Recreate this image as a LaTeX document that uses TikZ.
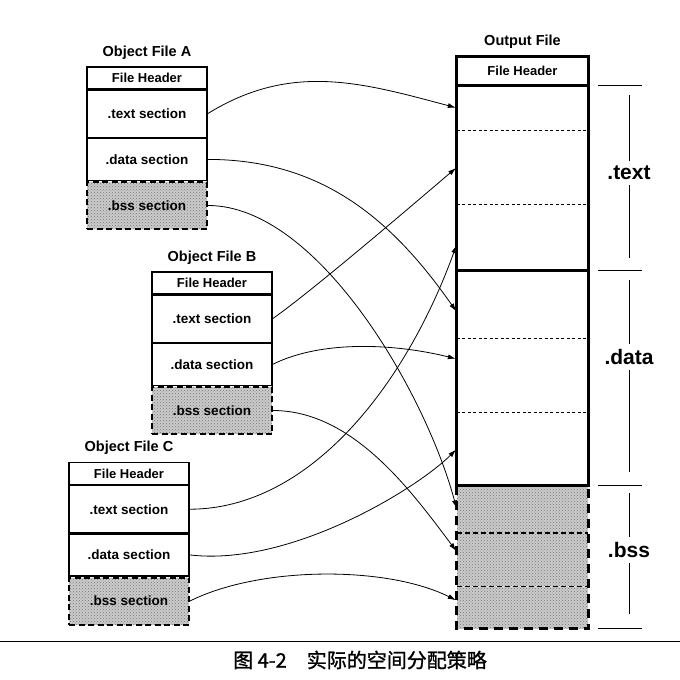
\documentclass[tikz,border=0pt]{standalone}
\usepackage{fontspec}
\setmainfont{Liberation Sans}
\newfontfamily\cjkfont[FakeBold=1.2]{Noto Sans CJK SC}
\usetikzlibrary{arrows.meta,positioning,patterns}

\begin{document}
\begin{tikzpicture}[
  x=1pt, y=-1pt,
  node distance=0pt,
  grain/.style={pattern=crosshatch dots, pattern color=black!55,
                preaction={fill=black!20}},
  sect/.style={draw, line width=1.2pt, minimum width=120pt, inner sep=0pt,
               font=\bfseries\fontsize{13.5}{15}\selectfont},
  hdr/.style={sect, minimum height=22pt, font=\bfseries\fontsize{13}{15}\selectfont},
  textsec/.style={sect, minimum height=47pt},
  datasec/.style={sect, minimum height=42pt},
  bsssec/.style={sect, grain, minimum height=47pt, line width=2pt,
                 dash pattern=on 6pt off 3.5pt},
  filetitle/.style={font=\bfseries\fontsize{14.5}{16}\selectfont, inner sep=0pt},
  slot/.style={minimum width=131pt, inner sep=0pt},
  bssslot/.style={slot, grain},
  sep/.style={line width=0.6pt, dash pattern=on 3pt off 2.5pt},
  bsssep/.style={line width=1.2pt, dash pattern=on 5pt off 3pt},
  outline/.style={line width=2.8pt},
  bssoutline/.style={line width=3pt, dash pattern=on 9pt off 6pt},
  biglabel/.style={font=\bfseries\fontsize{21}{24}\selectfont, inner sep=5pt},
  arrow/.style={-{Latex[length=8pt,width=5pt]}, line width=0.8pt, shorten >=1pt}
]
\useasboundingbox (0,0) rectangle (680,680);

% object files
\node[hdr] (hdrA) at (147,78) {File Header};
\node[textsec, below=of hdrA] (textA) {.text section};
\node[datasec, below=of textA] (dataA) {.data section};
\node[bsssec, below=of dataA] (bssA) {.bss section};
\node[filetitle, above=7pt of hdrA] (titleA) {Object File A};

\node[hdr] (hdrB) at (212,283) {File Header};
\node[textsec, below=of hdrB] (textB) {.text section};
\node[datasec, below=of textB] (dataB) {.data section};
\node[bsssec, below=of dataB] (bssB) {.bss section};
\node[filetitle, above=7pt of hdrB] (titleB) {Object File B};

\node[hdr] (hdrC) at (129,473.5) {File Header};
\node[textsec, below=of hdrC] (textC) {.text section};
\node[datasec, below=of textC] (dataC) {.data section};
\node[bsssec, below=of dataC] (bssC) {.bss section};
\node[filetitle, above=7pt of hdrC] (titleC) {Object File C};

% output file
\node[slot, minimum height=28pt, font=\bfseries\fontsize{13}{15}\selectfont] (outhdr) at (522.5,71) {File Header};
\node[slot, minimum height=45pt, below=of outhdr] (t1) {};
\node[slot, minimum height=73pt, below=of t1] (t2) {};
\node[slot, minimum height=66pt, below=of t2] (t3) {};
\node[slot, minimum height=67pt, below=of t3] (d1) {};
\node[slot, minimum height=74pt, below=of d1] (d2) {};
\node[slot, minimum height=73pt, below=of d2] (d3) {};
\node[bssslot, minimum height=47pt, below=of d3] (b1) {};
\node[bssslot, minimum height=53pt, below=of b1] (b2) {};
\node[bssslot, minimum height=42pt, below=of b2] (b3) {};
\node[filetitle, above=8pt of outhdr] (titleOut) {Output File};

\draw[sep] (t1.south west) -- (t1.south east);
\draw[sep] (t2.south west) -- (t2.south east);
\draw[sep] (d1.south west) -- (d1.south east);
\draw[sep] (d2.south west) -- (d2.south east);
\draw[bsssep] (b1.south west) -- (b1.south east);
\draw[bsssep] (b2.south west) -- (b2.south east);
\draw[bssoutline] (b1.north west) rectangle (b3.south east);
\draw[outline] (outhdr.north west) rectangle (d3.south east);
\draw[outline] (outhdr.south west) -- (outhdr.south east);
\draw[outline] (t3.south west) -- (t3.south east);

% brackets
\draw[line width=0.9pt] ([xshift=10pt]outhdr.south east) -- ++(44,0);
\draw[line width=0.9pt] ([xshift=10pt]t3.south east) -- ++(44,0);
\draw[line width=0.9pt] ([xshift=10pt]d3.south east) -- ++(44,0);
\draw[line width=0.9pt] ([xshift=10pt]b3.south east) -- ++(44,0);
\node[biglabel] (lbltext) at (629,173) {.text};
\node[biglabel] (lbldata) at (629,357) {.data};
\node[biglabel] (lblbss) at (629,550) {.bss};
\draw[line width=0.8pt] (629,95) -- (lbltext) -- (629,258);
\draw[line width=0.8pt] (629,280) -- (lbldata) -- (629,472);
\draw[line width=0.8pt] (629,493) -- (lblbss) -- (629,614);

% connectors
\draw[arrow] (textA.east) .. controls +(84,-52) and +(-94,-25) .. (t1.west);
\draw[arrow] (dataA.east) .. controls +(114,0) and +(-65,-93) .. ([yshift=-8pt]d1.west);
\draw[arrow] (bssA.east) .. controls +(110,0) and +(-31,-116) .. (b1.west);
\draw[arrow] (textB.east) .. controls +(40,-28) and +(-40,34) .. (t2.west);
\draw[arrow] (dataB.east) .. controls +(50,-25) and +(-60,-15) .. ([yshift=16pt]d2.west);
\draw[arrow] (bssB.east) .. controls +(80,0) and +(-45,-60) .. ([yshift=8pt]b2.west);
\draw[arrow] (textC.east) .. controls +(120,0) and +(-51,141) .. ([yshift=-7pt]t3.west);
\draw[arrow] (dataC.east) .. controls +(100,12) and +(-40,40) .. (d3.west);
\draw[arrow] (bssC.east) .. controls +(70,-35) and +(-70,-35) .. ([yshift=7pt]b3.west);

% caption
\draw[line width=0.9pt] (0,641) -- (680,641);
\node[font=\cjkfont\fontsize{20}{22}\selectfont] (caption) at (360,660) {图 4-2\quad 实际的空间分配策略};
\end{tikzpicture}
\end{document}
